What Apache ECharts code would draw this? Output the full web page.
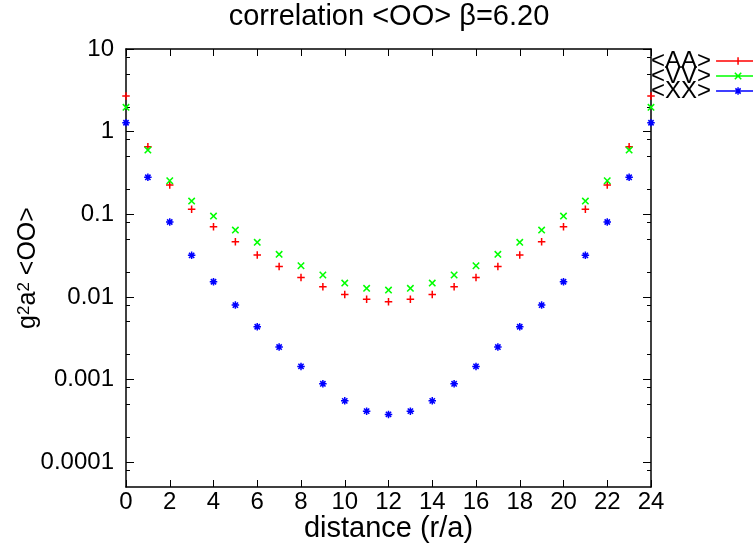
<!DOCTYPE html>
<html><head><meta charset="utf-8">
<script src="https://cdn.jsdelivr.net/npm/echarts@6/dist/echarts.min.js"></script>
<style>html,body{margin:0;padding:0;background:#fff}#c{width:753px;height:544px}</style>
</head><body><div id="c"></div>
<script>
// ---- data ----
const distance = [0,1,2,3,4,5,6,7,8,9,10,11,12,13,14,15,16,17,18,19,20,21,22,23,24];
const seriesNames = ['<AA>', '<VV>', '<XX>'];
const valuesAA = [2.70,0.656,0.226,0.1146,0.0706,0.0465,0.0321,0.0233,0.0172,0.01325,0.0107,0.00933,0.00873,0.00933,0.0107,0.01325,0.0172,0.0233,0.0321,0.0465,0.0706,0.1146,0.226,0.656,2.70];
const valuesVV = [1.97,0.598,0.2545,0.1445,0.0951,0.0644,0.0457,0.0327,0.0238,0.0184,0.01469,0.01268,0.01208,0.01268,0.01469,0.0184,0.0238,0.0327,0.0457,0.0644,0.0951,0.1445,0.2545,0.598,1.97];
const valuesXX = [1.28,0.280,0.0805,0.0318,0.01524,0.00796,0.00435,0.00247,0.00144,0.000887,0.000552,0.000414,0.000378,0.000414,0.000552,0.000887,0.00144,0.00247,0.00435,0.00796,0.01524,0.0318,0.0805,0.280,1.28];
const yMajorTicks = [0.0001,0.001,0.01,0.1,1,10];
const yMinorTicks = [0.00008,0.0002,0.0005,0.0008,0.002,0.005,0.008,0.02,0.05,0.08,0.2,0.5,0.8,2,5,8];
const yMin = 0.00005, yMax = 10;
const titleText = 'correlation <OO> \u03b2=6.20';
const xName = 'distance (r/a)';

// ---- styling ----
const FONT = "'Liberation Sans', Arial, sans-serif";
const colors = ['#ff0000', '#00ff00', '#0000ff'];
function rect(x0,y0,x1,y1){return `M${x0},${y0}L${x1},${y0}L${x1},${y1}L${x0},${y1}Z`;}
function plus(cx,cy,h,t){return rect(cx-h,cy-t,cx+h,cy+t)+rect(cx-t,cy-h,cx+t,cy+h);}
function cross(cx,cy,h,d){
  return `M${cx-h+d},${cy-h}L${cx+h},${cy+h-d}L${cx+h-d},${cy+h}L${cx-h},${cy-h+d}Z`+
         `M${cx+h-d},${cy-h}L${cx+h},${cy-h+d}L${cx-h+d},${cy+h}L${cx-h},${cy+h-d}Z`;
}
const H = 3.75, T = 0.75, D = 1.1;
function marker(kind,cx,cy){
  if (kind===0) return plus(cx,cy,H,T);
  if (kind===1) return cross(cx,cy,H,D);
  return plus(cx,cy,H,T)+cross(cx,cy,H*0.85,D);
}
const symbols = [0,1,2].map(k => 'path://' + marker(k,H,H));
const legendIcons = [0,1,2].map(k => 'path://' + rect(0,H-0.75,40,H+0.75) + marker(k,22,H));

const allValues = [valuesAA, valuesVV, valuesXX];
const series = seriesNames.map((n,i) => ({
  name: n, type: 'scatter', clip: false,
  data: distance.map((d,j) => [d, allValues[i][j]]),
  symbol: symbols[i], symbolSize: 7.5,
  itemStyle: {color: colors[i], opacity: 1},
  emphasis: {disabled: true}
}));

const axisLine = {show: true, onZero: false, lineStyle: {color: '#000', width: 1.5}};
// main log axis: scale for data + labels
const mainY = {
  type: 'log', position: 'left', min: yMin, max: yMax, logBase: 10,
  axisLine: axisLine,
  axisTick: {show: false},
  axisLabel: {show: true, customValues: yMajorTicks, fontSize: 24, color: '#000', fontFamily: FONT, margin: 12,
    formatter: v => String(Number(Number(v).toPrecision(6)))},
  splitLine: {show: false},
  name: 'g{sup|2}a{sup|2} <OO>', nameLocation: 'middle', nameGap: 85, nameMoveOverlap: false,
  nameTextStyle: {fontSize: 25, color: '#000', fontFamily: FONT,
    rich: {sup: {fontSize: 17, color: '#000', fontFamily: FONT, verticalAlign: 'top'}}}
};
// tick-only axes in decade units (same span as the log axis)
function tickAx(pos, vals, len, line){
  return {
    type: 'value', position: pos, min: Math.log10(yMin), max: Math.log10(yMax),
    axisLine: line ? axisLine : {show: false, onZero: false},
    axisTick: {show: true, inside: true, length: len, customValues: vals.map(v => Math.log10(v)),
      lineStyle: {color:'#000', width: 1}},
    axisLabel: {show: false},
    splitLine: {show: false}
  };
}
function xAx(pos, labels, extra){
  return Object.assign({
    type: 'value', position: pos, min: 0, max: 24, interval: 2,
    axisLine: axisLine,
    axisTick: {show: true, inside: true, length: 7, lineStyle: {color:'#000', width: 1}},
    axisLabel: labels ? {show: true, fontSize: 24, color: '#000', fontFamily: FONT, margin: 3} : {show: false},
    splitLine: {show: false}
  }, extra || {});
}

const option = {
  animation: false,
  backgroundColor: '#fff',
  textStyle: {fontFamily: FONT},
  title: {text: titleText, left: 389, textAlign: 'center', top: 2, padding: 0,
    textStyle: {fontSize: 29, fontWeight: 'normal', color: '#000', fontFamily: FONT}},
  grid: {left: 126, right: 102, top: 49, bottom: 57, containLabel: false, outerBoundsMode: 'none'},
  xAxis: [
    xAx('bottom', true, {name: xName, nameLocation: 'middle', nameGap: 27, nameMoveOverlap: false,
      nameTextStyle: {fontSize: 29, color: '#000', fontFamily: FONT}}),
    xAx('top', false)
  ],
  yAxis: [
    mainY,
    tickAx('left', yMajorTicks, 8, false),
    tickAx('left', yMinorTicks, 4, false),
    tickAx('right', yMajorTicks, 8, true),
    tickAx('right', yMinorTicks, 4, false)
  ],
  legend: {
    orient: 'vertical', left: 651, top: 49, align: 'right', padding: 0,
    itemGap: -9, itemWidth: 40, itemHeight: 7.5,
    textStyle: {fontSize: 24, color: '#000', fontFamily: FONT},
    data: seriesNames.map((n,i) => ({name: n, icon: legendIcons[i]})),
    selectedMode: false
  },
  series: series
};
const chart = echarts.init(document.getElementById('c'), null, {renderer: 'canvas'});
chart.setOption(option);
</script>
</body></html>
